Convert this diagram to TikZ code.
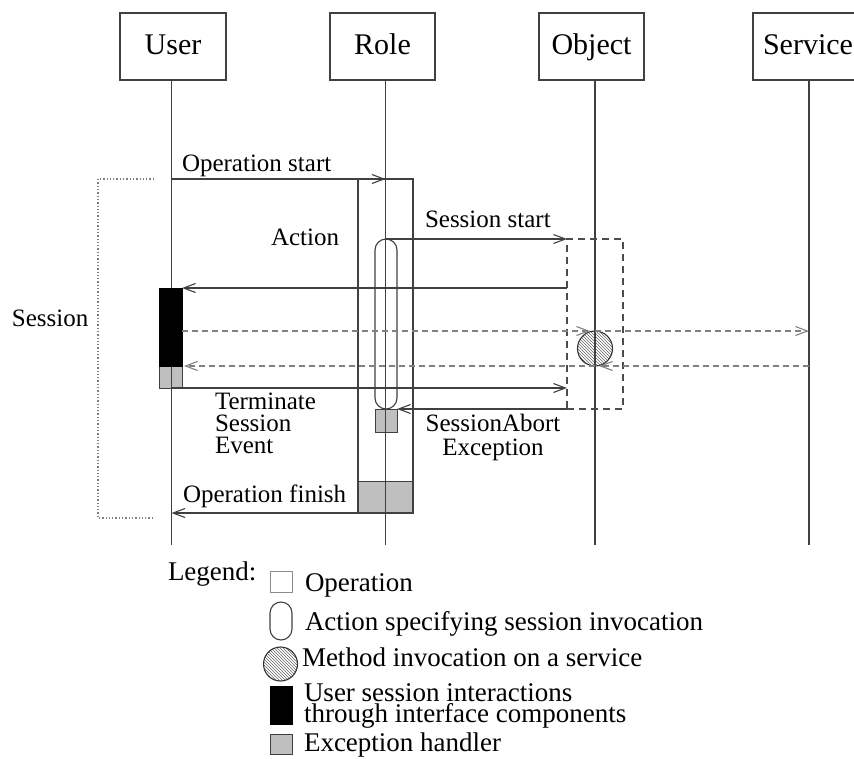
\documentclass[tikz,border=0pt]{standalone}
\usepackage{fontspec}
\setmainfont{Liberation Serif}
\usetikzlibrary{arrows.meta,patterns}
\begin{document}
\begin{tikzpicture}[x=1pt,y=-1pt,
  ln/.style={draw=black!75, line width=1.1pt},
  arr/.style={ln, -{Straight Barb[length=12pt,width=9pt]}},
  darr/.style={draw=black!50, line width=1.1pt, dash pattern=on 6pt off 4pt, -{Straight Barb[length=12pt,width=9pt]}},
  hdr/.style={draw=black!75, line width=1.3pt, minimum height=67pt, inner sep=0, outer sep=0,
     font=\fontsize{30}{34}\selectfont, text height=21pt, text depth=6pt},
  lbl/.style={font=\fontsize{25}{22}\selectfont, inner sep=0, outer sep=0},
  leg/.style={font=\fontsize{27}{20.5}\selectfont, inner sep=0, outer sep=0},
  shp/.style={inner sep=0, outer sep=0},
  graybox/.style={shp, fill=black!25, draw=black!75, line width=1pt},
  hatch/.style={shp, circle, draw=black!80, line width=1.1pt, pattern=north west lines, pattern color=black!60}
]
\useasboundingbox (0,0) rectangle (854,758);
\clip (0,0) rectangle (854,758);

% header boxes
\node[hdr, minimum width=106pt] (user) at (173,46.5) {User};
\node[hdr, minimum width=105pt] (role) at (382.5,46.5) {Role};
\node[hdr, minimum width=105pt] (object) at (591.5,46.5) {Object};
\node[hdr, minimum width=110pt] (service) at (808,46.5) {Service};

% lifeline ends
\coordinate (uT) at (171.5,80);  \coordinate (uB) at (171.5,545);
\coordinate (rT) at (385.5,80);  \coordinate (rB) at (385.5,545);
\coordinate (oT) at (595,80);    \coordinate (oB) at (595,545);
\coordinate (sT) at (809,80);    \coordinate (sB) at (809,545);

% session bracket
\coordinate (bTop) at (154,179);
\coordinate (bBot) at (154,518);
\draw[dotted, draw=black!50, line width=1.3pt] (bTop) -- ++(-56,0) |- (bBot);
\node[lbl, anchor=base west] (lSes) at (12,326) {Session};

% gray fills (under lifelines)
\node[graybox, minimum width=55pt, minimum height=32pt] (opgray) at (385.5,497) {};
\node[graybox, minimum width=23pt, minimum height=22pt] (ugray) at (170.5,377) {};
\node[graybox, minimum width=22pt, minimum height=23pt] (pgray) at (386,420.5) {};
\node[hatch, minimum size=35pt] (circ) at (595,348.5) {};

% lifelines
\draw[ln] (uT) -- (uB);
\draw[ln] (rT) -- (rB);
\draw[ln] (oT) -- (oB);
\draw[ln] (sT) -- (sB);

% operation box, action pill, object box
\node[shp, draw=black!75, line width=1.1pt, minimum width=55pt, minimum height=334pt] (opbox) at (385.5,346) {};
\node[shp, draw=black!75, line width=1.1pt, rounded corners=11pt, minimum width=22pt, minimum height=170pt] (pill) at (386,324) {};
\node[shp, draw=black!70, line width=1.1pt, dash pattern=on 7pt off 5pt, minimum width=56pt, minimum height=170pt] (objbox) at (595,324) {};

% user session bar
\node[shp, fill=black, draw=black, line width=1pt, minimum width=23pt, minimum height=78pt] (ubar) at (170.5,327) {};

% messages
\draw[arr] (uT |- opbox.north) -- (rT |- opbox.north);
\node[lbl, anchor=base west] (lOS) at (182,171) {Operation start};
\node[lbl, anchor=base west] (lAct) at (271,245) {Action};
\draw[arr] (pill.north) -- (objbox.north west);
\node[lbl, anchor=base west] (lSS) at (425,227) {Session start};
\draw[arr] (objbox.west |- ubar.north) -- (ubar.north east);
\draw[darr] (ubar.east |- circ.north) -- ([xshift=-5pt]circ.north);
\draw[darr] (circ.north) -- (sT |- circ.north);
\draw[darr] (sT |- circ.south) -- ([xshift=4pt]circ.south);
\draw[darr] (circ.south) -- ([xshift=2pt]ubar.south east);
\draw[arr] (uT |- ugray.south) -- (objbox.west |- ugray.south);
\node[lbl, anchor=north west, align=left] (lTSE) at (215,393) {Terminate\\Session\\Event};
\draw[arr] (objbox.south west) -- (pgray.north east);
\node[lbl, font=\fontsize{25}{24}\selectfont, anchor=north, align=center] (lSAE) at (493,414) {SessionAbort\\Exception};
\draw[arr] (opbox.south west) -- (uT |- opbox.south);
\node[lbl, anchor=base west] (lOF) at (183,502) {Operation finish};

% legend
\node[leg, anchor=base west] (lg) at (168,580) {Legend:};
\node[shp, draw=black!45, line width=1pt, minimum width=22pt, minimum height=21pt] (lgOp) at (281,581.5) {};
\node[leg, anchor=base west] (lgOpT) at (305,591) {Operation};
\node[shp, draw=black!75, line width=1.1pt, rounded corners=11pt, minimum width=22pt, minimum height=38pt] (lgAct) at (281,621) {};
\node[leg, anchor=base west] (lgActT) at (305,630) {Action specifying session invocation};
\node[hatch, minimum size=34pt] (lgM) at (280.5,664) {};
\node[leg, anchor=base west] (lgMT) at (302,666) {Method invocation on a service};
\node[shp, fill=black, draw=black, minimum width=22pt, minimum height=38pt] (lgU) at (281,705) {};
\node[leg, anchor=north west, align=left] (lgUT) at (304,684) {User session interactions\\through interface components};
\node[graybox, minimum width=22pt, minimum height=20pt] (lgE) at (281,744) {};
\node[leg, anchor=base west] (lgET) at (304,751) {Exception handler};
\end{tikzpicture}
\end{document}
